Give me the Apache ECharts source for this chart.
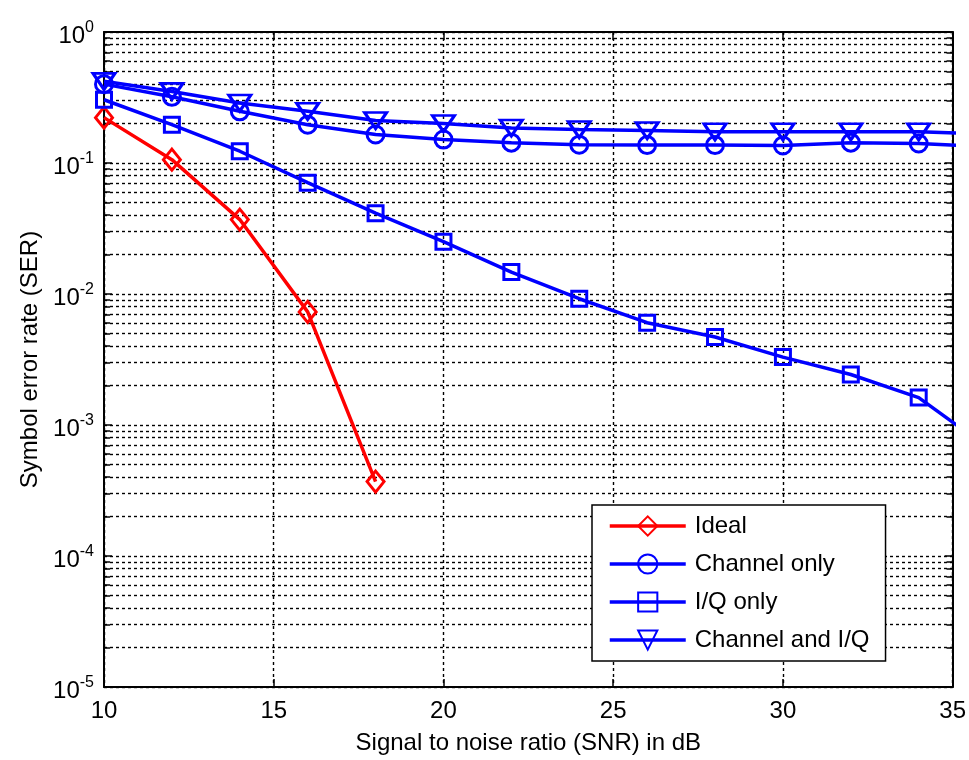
<!DOCTYPE html>
<html>
<head>
<meta charset="utf-8">
<script src="https://cdn.jsdelivr.net/npm/echarts@6/dist/echarts.min.js"></script>
<style>
html,body{margin:0;padding:0;background:#fff;}
#chart{width:969px;height:760px;}
</style>
</head>
<body>
<div id="chart"></div>
<script>
// ---- data ----
const snrIdeal = [10, 12, 14, 16, 18];
const ideal = [0.222, 0.106, 0.037, 0.0073, 0.00037];
const snr = [10, 12, 14, 16, 18, 20, 22, 24, 26, 28, 30, 32, 34, 36];
const channelOnly = [0.40, 0.32, 0.248, 0.196, 0.165, 0.151, 0.143, 0.138, 0.137, 0.137, 0.136, 0.143, 0.141, 0.133];
const iqOnly = [0.304, 0.196, 0.123, 0.0708, 0.0414, 0.0251, 0.0147, 0.0092, 0.00604, 0.0047, 0.0033, 0.00243, 0.00162, 0.00068];
const channelIQ = [0.42, 0.352, 0.287, 0.248, 0.211, 0.200, 0.185, 0.180, 0.177, 0.173, 0.173, 0.173, 0.173, 0.167];
const seriesNames = ['Ideal', 'Channel only', 'I/Q only', 'Channel and I/Q'];
const xTicks = [10, 15, 20, 25, 30, 35];
const decades = [-5, -4, -3, -2, -1];
const minorMultipliers = [2, 3, 4, 5, 6, 7, 8, 9];

const X_MIN = 10, X_MAX = 35, Y_MIN = 1e-5, Y_MAX = 1;
const FONT = 'Liberation Sans, Arial, sans-serif';

function pairs(xs, ys) { return ys.map((v, i) => [xs[i], v]); }

// minor values for log grid
const minorVals = [];
decades.forEach(d => minorMultipliers.forEach(m => minorVals.push(m * Math.pow(10, d))));

const dashStyle = { color: '#000', width: 1.4, type: [3, 3] };
const tickStyle = { color: '#000', width: 1.5, type: 'solid' };
const minorTickLen = 0.18; // in dB units on the x scale

const gridLines = minorVals.map(v => [{ coord: [X_MIN, v], lineStyle: dashStyle }, { coord: [X_MAX, v] }]);
const leftTicks = minorVals.map(v => [{ coord: [X_MIN, v], lineStyle: tickStyle }, { coord: [X_MIN + minorTickLen, v] }]);
const rightTicks = minorVals.map(v => [{ coord: [X_MAX - minorTickLen, v], lineStyle: tickStyle }, { coord: [X_MAX, v] }]);

const blue = '#0000ff', red = '#ff0000';

function lineSeries(name, data, color, symbol, size, rotate) {
  return {
    name: name, type: 'line', data: data, z: 3,
    symbol: symbol, symbolSize: size, symbolRotate: rotate || 0,
    showAllSymbol: true, clip: true,
    lineStyle: { color: color, width: 3.5 },
    itemStyle: { color: 'rgba(0,0,0,0)', borderColor: color, borderWidth: 3 },
    emphasis: { disabled: true },
    animation: false
  };
}

const chart = echarts.init(document.getElementById('chart'), null, { renderer: 'canvas' });

const labelRich = {
  b: { fontSize: 24, fontFamily: FONT, color: '#000' },
  e: { fontSize: 16, fontFamily: FONT, color: '#000', padding: [0, 0, 16, 0] }
};

chart.setOption({
  backgroundColor: '#fff',
  animation: false,
  grid: { left: 104, right: 16, top: 32, bottom: 70, show: false },
  legend: {
    data: seriesNames,
    orient: 'vertical',
    left: 592, top: 505, z: 10,
    padding: [9, 16, 9, 16],
    itemWidth: 76, itemHeight: 24, itemGap: 14,
    backgroundColor: '#fff',
    borderColor: '#000', borderWidth: 1.5, borderRadius: 0,
    textStyle: { fontSize: 24, fontFamily: FONT, color: '#000', padding: [0, 0, 0, 4] },
    lineStyle: { width: 3.5 },
    selectedMode: false
  },
  xAxis: [{
    type: 'value', min: X_MIN, max: X_MAX, interval: 5, position: 'bottom',
    name: 'Signal to noise ratio (SNR) in dB', nameLocation: 'middle', nameGap: 44,
    nameTextStyle: { fontSize: 24, fontFamily: FONT, color: '#000' },
    axisLine: { show: true, onZero: false, lineStyle: { color: '#000', width: 2 } },
    axisTick: { show: true, inside: true, length: 8, lineStyle: { color: '#000', width: 1.5 } },
    axisLabel: { fontSize: 24, fontFamily: FONT, color: '#000', margin: 12 },
    splitLine: { show: true, lineStyle: dashStyle }
  }, {
    type: 'value', min: X_MIN, max: X_MAX, interval: 5, position: 'top',
    axisLine: { show: true, onZero: false, lineStyle: { color: '#000', width: 2 } },
    axisTick: { show: true, inside: true, length: 8, lineStyle: { color: '#000', width: 1.5 } },
    axisLabel: { show: false }, splitLine: { show: false }
  }],
  yAxis: [{
    type: 'log', logBase: 10, min: Y_MIN, max: Y_MAX, splitNumber: 5, position: 'left',
    name: 'Symbol error rate (SER)', nameLocation: 'middle', nameGap: 62, nameRotate: 90,
    nameTextStyle: { fontSize: 24, fontFamily: FONT, color: '#000' },
    axisLine: { show: true, onZero: false, lineStyle: { color: '#000', width: 2 } },
    axisTick: { show: true, inside: true, length: 8, lineStyle: { color: '#000', width: 1.5 } },
    axisLabel: {
      margin: 10,
      padding: [8, 0, 0, 0],
      formatter: function (v) {
        const e = Math.round(Math.log10(v));
        return '{b|10}{e|' + e + '}';
      },
      rich: labelRich
    },
    splitLine: { show: true, lineStyle: dashStyle }
  }, {
    type: 'log', logBase: 10, min: Y_MIN, max: Y_MAX, splitNumber: 5, position: 'right',
    axisLine: { show: true, onZero: false, lineStyle: { color: '#000', width: 2 } },
    axisTick: { show: true, inside: true, length: 8, lineStyle: { color: '#000', width: 1.5 } },
    axisLabel: { show: false }, splitLine: { show: false }
  }],
  series: [
    {
      name: '__grid', type: 'line', data: [], z: 1, silent: true, animation: false,
      markLine: {
        z: 1, silent: true, symbol: ['none', 'none'], label: { show: false }, animation: false,
        data: gridLines.concat(leftTicks, rightTicks)
      }
    },
    lineSeries('Ideal', pairs(snrIdeal, ideal), red, 'diamond', [17, 21]),
    lineSeries('Channel only', pairs(snr, channelOnly), blue, 'circle', 17),
    lineSeries('I/Q only', pairs(snr, iqOnly), blue, 'rect', 15),
    lineSeries('Channel and I/Q', pairs(snr, channelIQ), blue, 'triangle', [22, 16], 180)
  ]
});
</script>
</body>
</html>
